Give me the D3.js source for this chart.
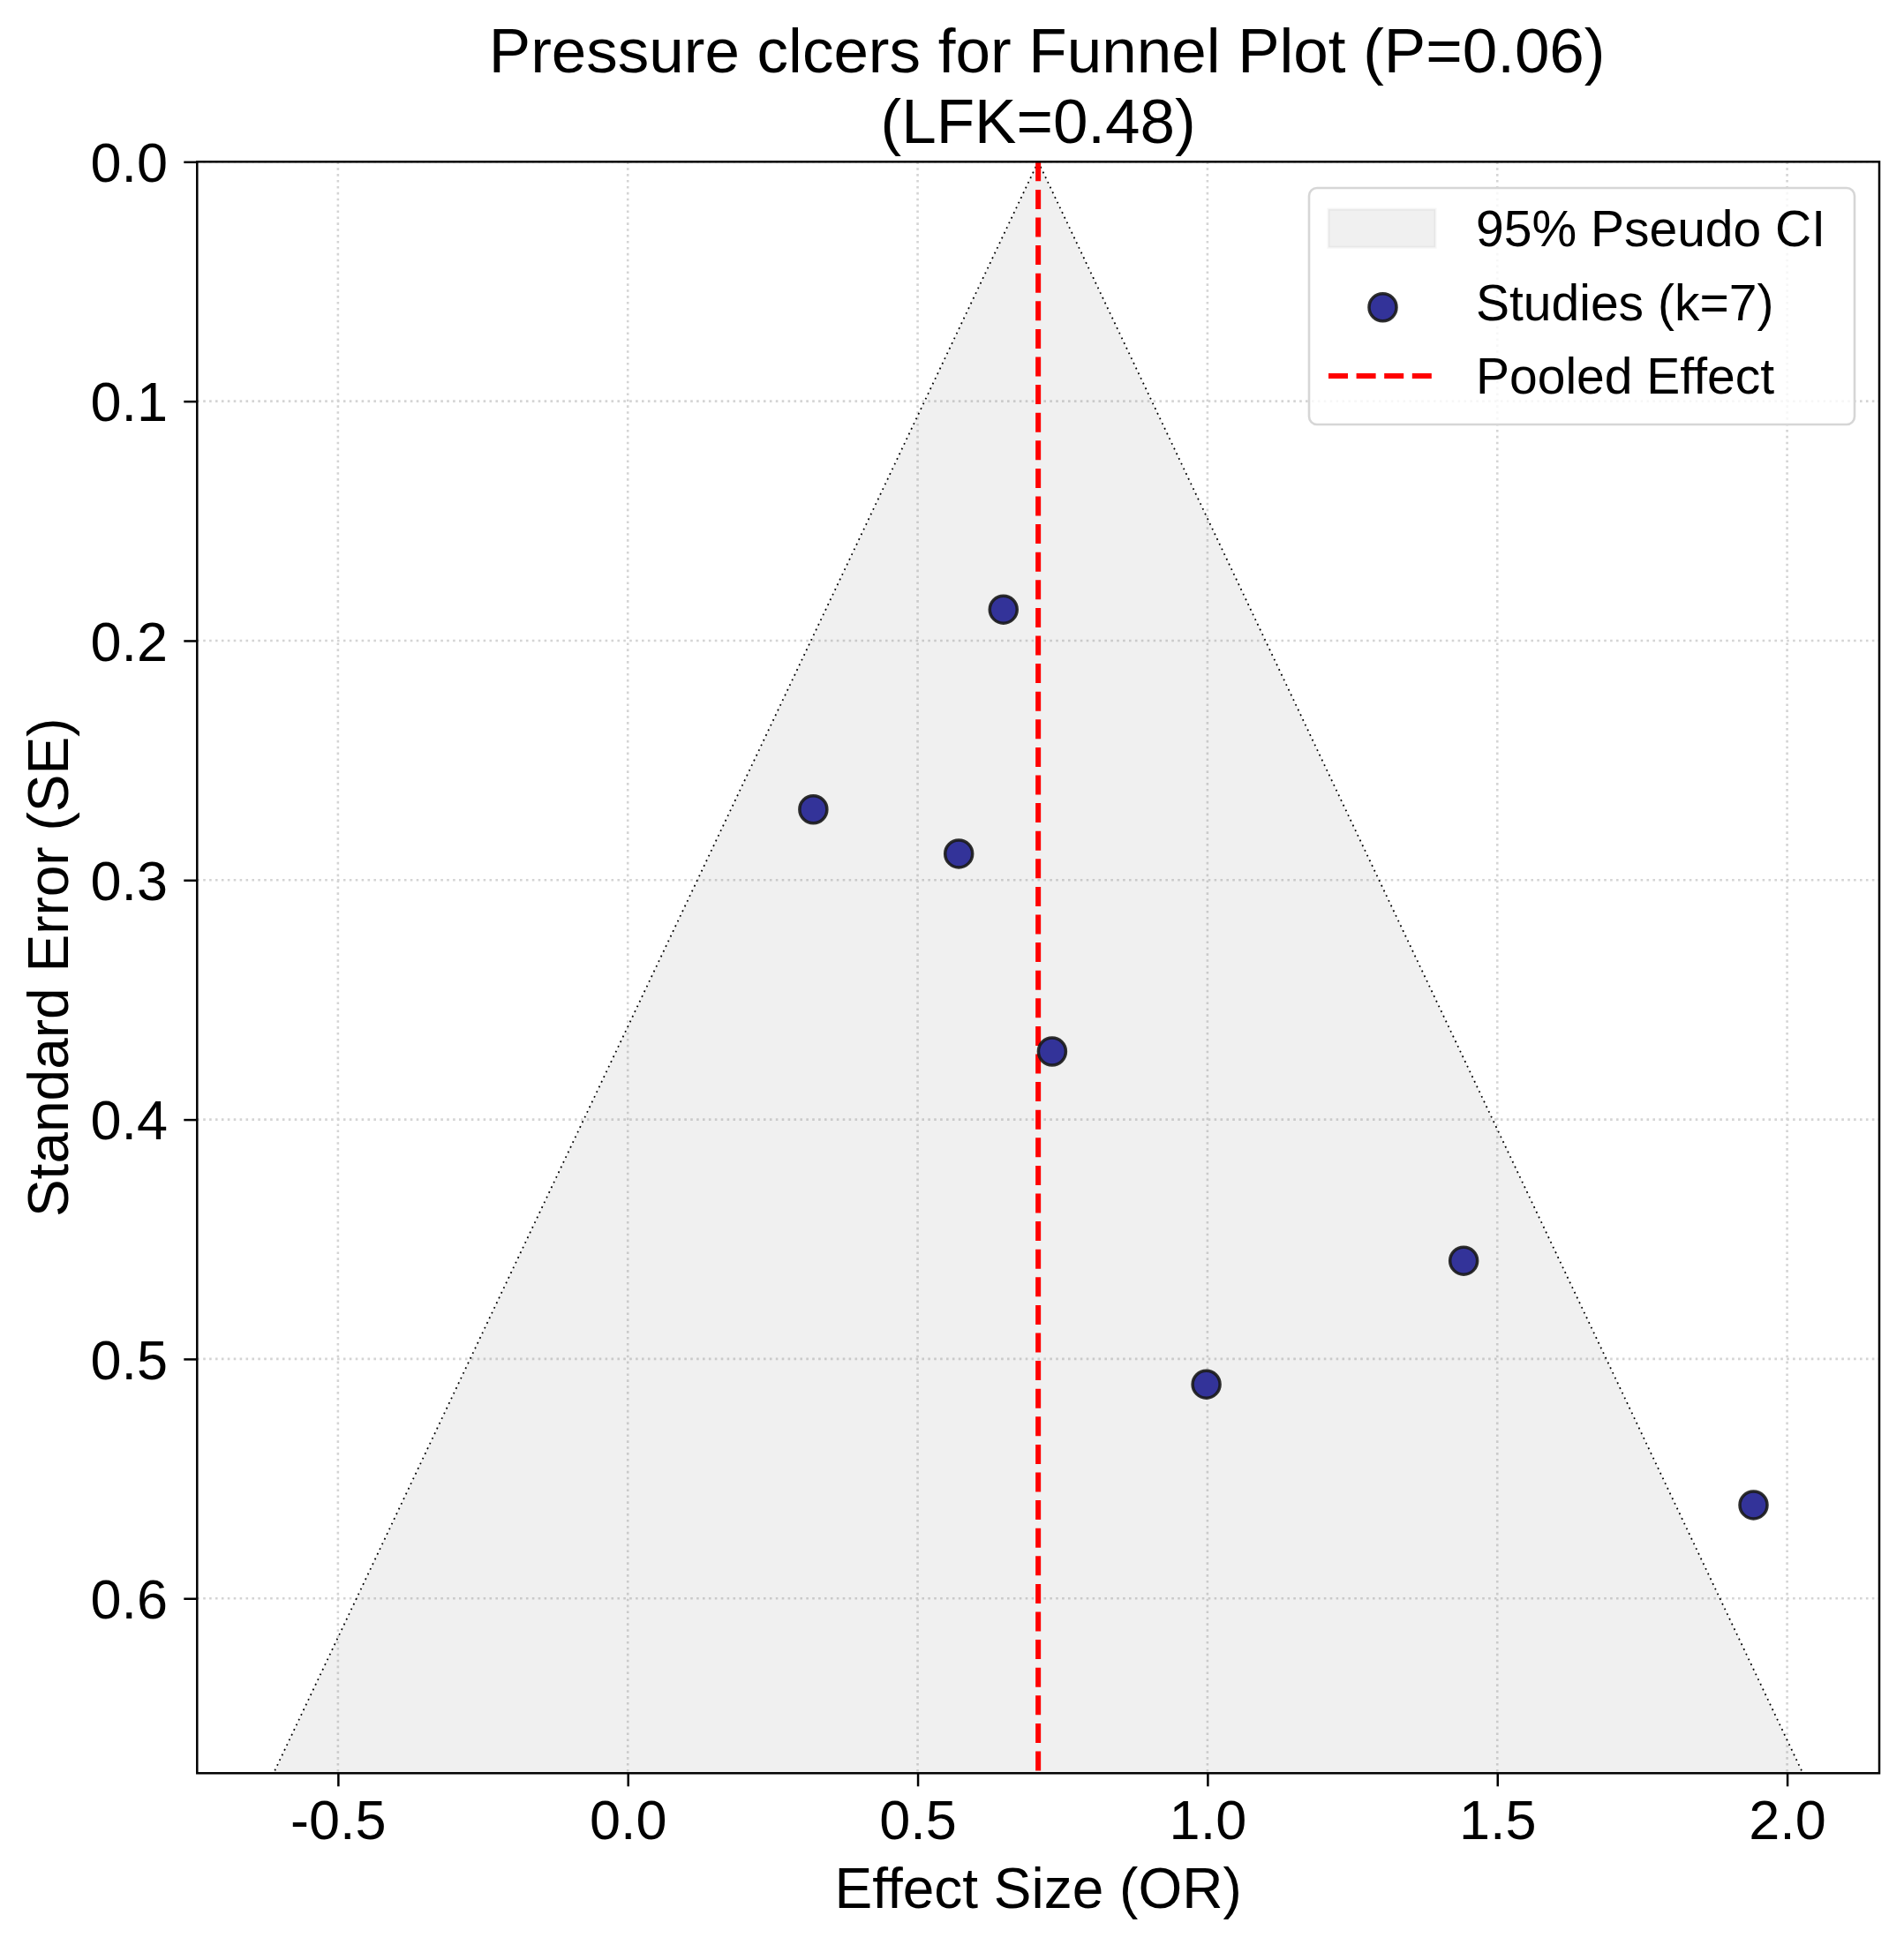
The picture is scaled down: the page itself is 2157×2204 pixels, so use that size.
<!DOCTYPE html>
<html>
<head>
<meta charset="utf-8">
<script src="https://cdn.jsdelivr.net/npm/d3@7"></script>
<style>
  body { margin: 0; background: #fff; }
  svg text { font-family: "Liberation Sans", Arial, Helvetica, sans-serif; fill: #000; }
</style>
</head>
<body>
<svg id="chart" width="2157" height="2204"></svg>
<script>
// ---- data ----
const titleLines = ["Pressure clcers for Funnel Plot (P=0.06)", "(LFK=0.48)"];
const xLabel = "Effect Size (OR)";
const yLabel = "Standard Error (SE)";
const effectSizes = [0.648, 0.320, 0.571, 0.732, 1.442, 0.998, 1.942];
const standardErrors = [0.187, 0.2705, 0.289, 0.3716, 0.459, 0.5106, 0.561];
const pooledEffect = 0.708;
const seMax = 0.673;
const xTicks = [-0.5, 0.0, 0.5, 1.0, 1.5, 2.0];
const yTicks = [0.0, 0.1, 0.2, 0.3, 0.4, 0.5, 0.6];
const xDomain = [-0.743, 2.159];
const legendLabels = ["95% Pseudo CI", "Studies (k=7)", "Pooled Effect"];

// ---- layout ----
const svg = d3.select("#chart");
const L = 223.3, R = 2129, T = 183.3, B = 2009.3;
const x = d3.scaleLinear().domain(xDomain).range([L, R]);
const y = d3.scaleLinear().domain([0, seMax]).range([T, B]);

svg.append("rect").attr("width", 2157).attr("height", 2204).attr("fill", "#fff");

// grid
const grid = svg.append("g");
grid.selectAll("line.vx").data(xTicks).join("line")
  .attr("x1", d => x(d)).attr("x2", d => x(d)).attr("y1", T).attr("y2", B)
  .attr("stroke", "#d4d4d4").attr("stroke-width", 2.6).attr("stroke-dasharray", "2.6,4.3");
grid.selectAll("line.hy").data(yTicks).join("line")
  .attr("x1", L).attr("x2", R).attr("y1", d => y(d)).attr("y2", d => y(d))
  .attr("stroke", "#d4d4d4").attr("stroke-width", 2.6).attr("stroke-dasharray", "2.6,4.3");

// funnel
const z = 1.96;
const funnel = [[pooledEffect, 0], [pooledEffect - z * seMax, seMax], [pooledEffect + z * seMax, seMax]];
svg.append("path")
  .attr("d", d3.line().x(d => x(d[0])).y(d => y(d[1]))(funnel) + "Z")
  .attr("fill", "#808080").attr("fill-opacity", 0.12).attr("stroke", "none");
const sideLine = d3.line().x(d => x(d[0])).y(d => y(d[1]));
[[funnel[0], funnel[1]], [funnel[0], funnel[2]]].forEach(seg => {
  svg.append("path").attr("d", sideLine(seg))
    .attr("fill", "none").attr("stroke", "#000").attr("stroke-width", 1.8)
    .attr("stroke-dasharray", "1.8,4.5");
});

// pooled line
svg.append("line")
  .attr("x1", x(pooledEffect)).attr("x2", x(pooledEffect)).attr("y1", T).attr("y2", B)
  .attr("stroke", "#ff0000").attr("stroke-width", 6).attr("stroke-dasharray", "22,9.6");

// points
const pts = effectSizes.map((e, i) => ({ e, se: standardErrors[i] }));
svg.append("g").selectAll("circle").data(pts).join("circle")
  .attr("cx", d => x(d.e)).attr("cy", d => y(d.se)).attr("r", 15.5)
  .attr("fill", "#333399").attr("stroke", "#1a1a1a").attr("stroke-opacity", 0.9).attr("stroke-width", 3.5);

// axes
const xAxis = svg.append("g").attr("transform", `translate(0,${B})`)
  .call(d3.axisBottom(x).tickValues(xTicks).tickFormat(d3.format(".1f")).tickSize(15).tickPadding(15));
const yAxis = svg.append("g").attr("transform", `translate(${L},0)`)
  .call(d3.axisLeft(y).tickValues(yTicks).tickFormat(d3.format(".1f")).tickSize(15).tickPadding(18.3));
[xAxis, yAxis].forEach(a => {
  a.select(".domain").remove();
  a.selectAll(".tick line").attr("stroke", "#000").attr("stroke-width", 2.5);
  a.selectAll(".tick text").attr("font-size", 63).attr("fill", "#000")
    .style("font-family", '"Liberation Sans", Arial, sans-serif');
});
xAxis.selectAll(".tick text").text(d => d3.format(".1f")(d).replace("−", "-"));
yAxis.selectAll(".tick text").attr("dy", "0.355em");

// spines
svg.append("rect").attr("x", L).attr("y", T).attr("width", R - L).attr("height", B - T)
  .attr("fill", "none").attr("stroke", "#000").attr("stroke-width", 2.5);

// title
svg.append("g").selectAll("text").data(titleLines).join("text")
  .attr("x", (d, i) => (L + R) / 2 + (i === 0 ? 10 : 0)).attr("y", (d, i) => 81.7 + i * 80)
  .attr("text-anchor", "middle").attr("font-size", 71).text(d => d);

// axis labels
svg.append("text").attr("x", (L + R) / 2).attr("y", 2161.7)
  .attr("text-anchor", "middle").attr("font-size", 64).text(xLabel);
svg.append("text").attr("transform", `translate(77,${(T + B) / 2}) rotate(-90)`)
  .attr("text-anchor", "middle").attr("font-size", 64).text(yLabel);

// legend
const lg = svg.append("g");
lg.append("rect").attr("x", 1483).attr("y", 213).attr("width", 618).attr("height", 268)
  .attr("rx", 9).attr("fill", "#fff").attr("fill-opacity", 0.8)
  .attr("stroke", "#d6d6d6").attr("stroke-width", 2.6);
const rowY = [258.7, 342.1, 425.4];
lg.append("rect").attr("x", 1505).attr("y", rowY[0] - 21.5).attr("width", 121).attr("height", 43)
  .attr("fill", "#808080").attr("fill-opacity", 0.12)
  .attr("stroke", "#808080").attr("stroke-opacity", 0.08).attr("stroke-width", 3);
lg.append("circle").attr("cx", 1566.5).attr("cy", 348.3).attr("r", 15.5)
  .attr("fill", "#333399").attr("stroke", "#1a1a1a").attr("stroke-opacity", 0.9).attr("stroke-width", 3.5);
lg.append("line").attr("x1", 1505).attr("x2", 1626).attr("y1", 426).attr("y2", 426)
  .attr("stroke", "#ff0000").attr("stroke-width", 6).attr("stroke-dasharray", "22,9.6");
lg.selectAll("text").data(legendLabels).join("text")
  .attr("x", 1672).attr("y", (d, i) => [279.3, 362.7, 446][i])
  .attr("font-size", 57).text(d => d);
</script>
</body>
</html>
